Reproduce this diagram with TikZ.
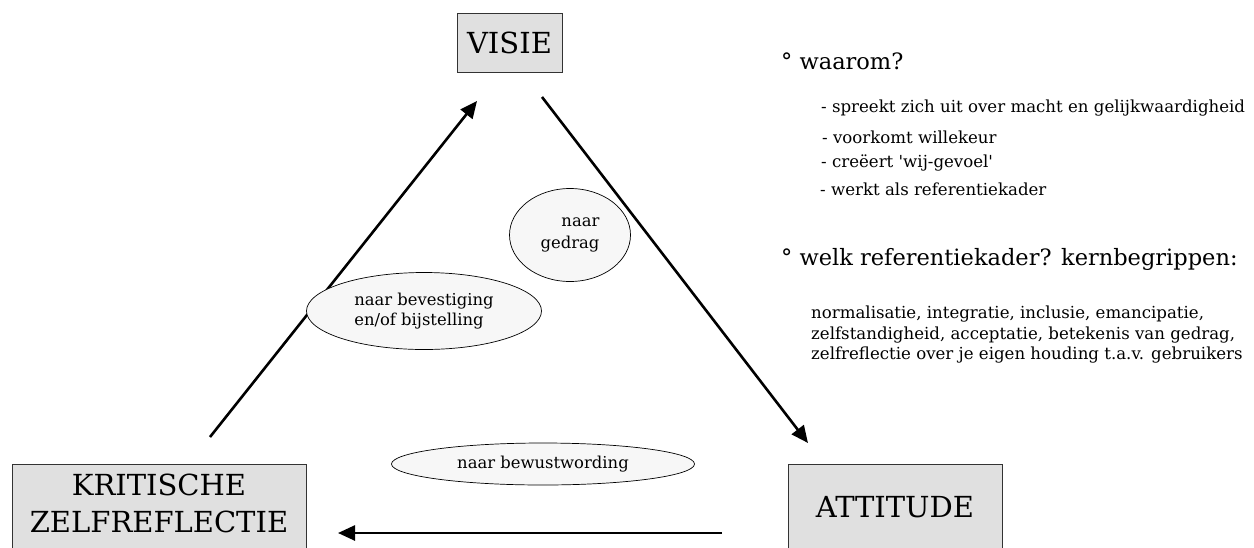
\documentclass[tikz,border=0pt]{standalone}
\usepackage{fontspec}
\setmainfont{DejaVu Serif}[Ligatures=TeXOff]
\usetikzlibrary{shapes.geometric,arrows.meta,positioning}
\definecolor{boxgray}{RGB}{224,224,224}
\definecolor{bubblegray}{RGB}{247,247,247}
\tikzset{
  conceptbox/.style={draw=black!80, fill=boxgray, line width=0.9pt, inner sep=0pt},
  boxlabel/.style={align=center, font=\fontsize{29}{37}\selectfont},
  bubble/.style={ellipse, draw, fill=bubblegray, line width=0.7pt, inner sep=0pt, font=\fontsize{16.4}{20}\selectfont},
  flow/.style={line width=2.6pt, -{Triangle[length=17pt,width=15pt]}},
  note/.style={anchor=west, inner sep=0pt},
  headnote/.style={note, font=\fontsize{22.5}{26}\selectfont},
  pointnote/.style={note, font=\fontsize{16.6}{20}\selectfont}
}

\begin{document}
\begin{tikzpicture}[x=1pt,y=-1pt]
  \useasboundingbox (0,0) rectangle (1254,547);

  % Corner boxes
  \node[conceptbox, boxlabel, minimum width=105pt, minimum height=59pt] (visie) at (509.5,42.5) {VISIE};
  \node[conceptbox, minimum width=294pt, minimum height=96pt] (kritisch) at (159,512) {};
  \node[boxlabel] (kritischtext) at (159,503) {KRITISCHE\\ZELFREFLECTIE};
  \node[conceptbox, minimum width=214pt, minimum height=96pt] (attitude) at (895,512) {};
  \node[boxlabel] (attitudetext) at (895,507) {ATTITUDE};

  % Cycle arrows
  \coordinate (upfrom) at (210,437);
  \coordinate (upto) at (477,101);
  \coordinate (downfrom) at (542,97);
  \coordinate (downto) at (808,443);
  \coordinate (backfrom) at (722,533);
  \coordinate (backto) at (338,533);
  \draw[flow] (upfrom) -- (upto);
  \draw[flow] (downfrom) -- (downto);
  \draw[flow] (backfrom) -- (backto);

  % Bubbles
  \node[bubble, minimum width=121pt, minimum height=93pt, align=right, font=\fontsize{16.4}{22}\selectfont] (gedrag) at (570,235) {naar\\gedrag};
  \node[bubble, minimum width=235pt, minimum height=77pt, align=left] (bevestiging) at (424,311) {naar bevestiging\\en/of bijstelling};
  \node[bubble, minimum width=303pt, minimum height=42pt] (bewust) at (543,464) {naar bewustwording};

  % Why a vision
  \node[headnote] (waarom) at (781,61) {°~waarom?};
  \node[pointnote] (macht) at (821,108) {- spreekt zich uit over macht en gelijkwaardigheid};
  \node[pointnote] (willekeur) at (822,137) {- voorkomt willekeur};
  \node[pointnote] (wijgevoel) at (821,163) {- creëert 'wij-gevoel'};
  \node[pointnote] (kader) at (820,189) {- werkt als referentiekader};

  % Which frame of reference
  \node[headnote] (welk) at (781,259) {°~welk referentiekader? kernbegrippen:};
  \begin{scope}
    \clip (780,300) rectangle (1254,367);
    \node[note, anchor=north west, align=left, font=\fontsize{16.6}{20.5}\selectfont] (begrippen) at (811,306)
      {normalisatie, integratie, inclusie, emancipatie,\\zelfstandigheid, acceptatie, betekenis van gedrag,\\zelfreflectie over je eigen houding t.a.v. gebruikers};
  \end{scope}
\end{tikzpicture}
\end{document}
